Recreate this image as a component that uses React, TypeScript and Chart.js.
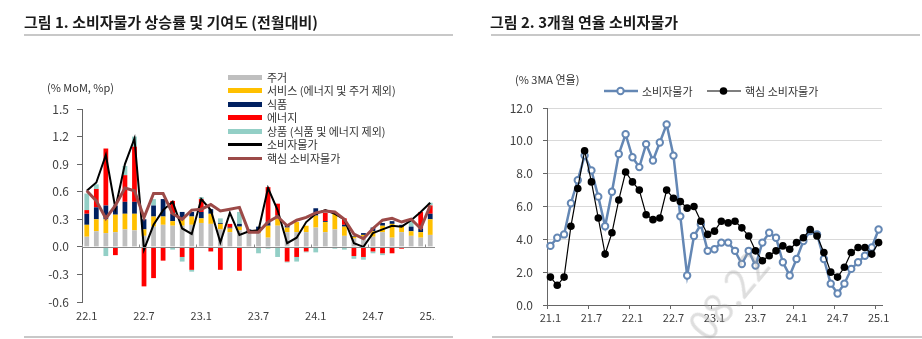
import React, { useEffect, useRef } from 'react';
import { Chart, registerables } from 'chart.js';

Chart.register(...registerables);

const FONT = "'Noto Sans CJK KR', 'Noto Sans', sans-serif";

// ---------- Figure 1: MoM CPI and contributions ----------
const months1 = [
  '22.1', '22.2', '22.3', '22.4', '22.5', '22.6', '22.7', '22.8', '22.9', '22.10', '22.11', '22.12',
  '23.1', '23.2', '23.3', '23.4', '23.5', '23.6', '23.7', '23.8', '23.9', '23.10', '23.11', '23.12',
  '24.1', '24.2', '24.3', '24.4', '24.5', '24.6', '24.7', '24.8', '24.9', '24.10', '24.11', '24.12',
  '25.1',
];
const housing = [0.11, 0.17, 0.15, 0.16, 0.19, 0.18, 0.12, 0.22, 0.24, 0.23, 0.23, 0.24, 0.26, 0.25, 0.19, 0.16, 0.18, 0.15, 0.15, 0.10, 0.23, 0.16, 0.16, 0.16, 0.21, 0.16, 0.19, 0.12, 0.09, 0.11, 0.11, 0.16, 0.10, 0.16, 0.12, 0.10, 0.13];
const services = [0.13, 0.13, 0.15, 0.19, 0.17, 0.18, 0.07, 0.11, 0.09, 0.05, 0.07, 0.09, 0.05, 0.11, 0.06, 0.04, 0.04, 0.02, 0.03, 0.13, 0.08, 0.05, 0.11, 0.07, 0.13, 0.11, 0.19, 0.10, 0.02, 0.02, 0.06, 0.07, 0.15, 0.06, 0.05, 0.06, 0.17];
const food = [0.12, 0.13, 0.15, 0.10, 0.13, 0.13, 0.11, 0.12, 0.19, 0.08, 0.08, 0.05, 0.07, 0.05, 0.01, 0.01, 0.03, 0.02, 0.04, 0.04, 0.03, 0.03, 0, 0, 0.08, 0.01, 0, 0.02, 0.01, 0.02, 0.04, 0.03, 0.03, 0.02, 0.05, 0.04, 0.06];
const energy = [0.04, 0.20, 0.62, -0.09, 0.29, 0.60, -0.43, -0.34, -0.15, 0.14, -0.11, -0.25, 0.14, -0.05, -0.25, 0.04, -0.26, 0, 0, 0.38, 0.13, -0.16, -0.11, -0.05, 0, 0.09, 0, 0.07, -0.10, -0.11, -0.05, -0.07, -0.07, -0.02, 0, 0.18, 0.09];
const goods = [0.18, 0.05, -0.10, 0, 0.10, 0.11, 0, 0.07, 0, -0.03, -0.05, -0.02, 0.02, 0, 0.05, 0, 0.13, -0.01, -0.07, -0.02, -0.11, -0.01, -0.05, -0.01, -0.06, 0, -0.02, -0.03, -0.03, -0.03, -0.02, -0.02, 0, 0, 0.06, -0.01, 0.03];
const cpiMoM = [0.61, 0.70, 1.00, 0.42, 0.90, 1.18, -0.03, 0.24, 0.40, 0.49, 0.20, 0.14, 0.52, 0.40, 0.05, 0.37, 0.13, 0.17, 0.18, 0.64, 0.40, 0.04, 0.10, 0.27, 0.36, 0.40, 0.36, 0.30, 0.04, 0.00, 0.15, 0.19, 0.23, 0.22, 0.29, 0.38, 0.48];
const coreMoM = [0.61, 0.50, 0.31, 0.45, 0.64, 0.61, 0.32, 0.58, 0.58, 0.36, 0.30, 0.40, 0.41, 0.46, 0.39, 0.41, 0.43, 0.16, 0.16, 0.27, 0.33, 0.23, 0.29, 0.32, 0.37, 0.39, 0.38, 0.30, 0.14, 0.09, 0.20, 0.29, 0.31, 0.27, 0.30, 0.20, 0.45];

// ---------- Figure 2: 3-month annualized CPI ----------
const months2 = [
  '21.1', '21.2', '21.3', '21.4', '21.5', '21.6', '21.7', '21.8', '21.9', '21.10', '21.11', '21.12',
  ...months1,
];
const cpi3m = [3.6, 4.1, 4.3, 6.2, 7.6, 9.1, 8.2, 6.6, 4.8, 6.9, 9.2, 10.4, 9.0, 8.4, 9.8, 8.8, 9.9, 11.0, 9.1, 5.4, 1.8, 4.2, 4.9, 3.3, 3.4, 3.8, 3.8, 3.3, 2.5, 3.3, 2.4, 3.8, 4.4, 4.1, 2.6, 1.8, 2.8, 3.9, 4.5, 4.3, 2.8, 1.3, 0.7, 1.3, 2.2, 2.6, 3.0, 3.5, 4.6];
const core3m = [1.7, 1.2, 1.7, 4.8, 7.1, 9.4, 7.5, 5.3, 3.1, 4.4, 6.4, 8.1, 7.5, 7.0, 5.5, 5.2, 5.3, 7.0, 6.5, 6.3, 5.9, 6.0, 5.1, 4.3, 4.5, 5.1, 5.0, 5.1, 4.7, 4.2, 3.3, 2.7, 3.0, 3.3, 3.6, 3.4, 3.8, 4.1, 4.6, 4.2, 3.2, 2.0, 1.7, 2.3, 3.2, 3.5, 3.5, 3.1, 3.8];

const legend1 = [
  { label: '주거', color: '#bfbfbf', kind: 'bar' },
  { label: '서비스 (에너지 및 주거 제외)', color: '#ffc000', kind: 'bar' },
  { label: '식품', color: '#002060', kind: 'bar' },
  { label: '에너지', color: '#ff0000', kind: 'bar' },
  { label: '상품 (식품 및 에너지 제외)', color: '#93cfc6', kind: 'bar' },
  { label: '소비자물가', color: '#000000', kind: 'line' },
  { label: '핵심 소비자물가', color: '#9c4a48', kind: 'line' },
];

const BLUE = '#6487b4';
const TICK = '#404040';
const AXIS = '#666666';

const zeroPlugin = {
  id: 'zeroLine',
  afterDatasetsDraw(chart: any) {
    const xs = chart.scales.x;
    const ys = chart.scales.y;
    const ctx = chart.ctx;
    const y0 = Math.round(ys.getPixelForValue(0)) + 0.5;
    const w = xs.getPixelForValue(1) - xs.getPixelForValue(0);
    ctx.save();
    ctx.strokeStyle = '#8a8a8a';
    ctx.lineWidth = 1;
    ctx.beginPath();
    ctx.moveTo(chart.chartArea.left, y0);
    ctx.lineTo(chart.chartArea.right, y0);
    for (let i = 0; i < months1.length; i += 6) {
      const px = Math.round(xs.getPixelForValue(i) - w / 2) + 0.5;
      ctx.moveTo(px, y0 - 3);
      ctx.lineTo(px, y0);
    }
    ctx.stroke();
    ctx.restore();
  },
};

const abs = (s: any): React.CSSProperties => ({ position: 'absolute', ...s });

export default function App() {
  const ref1 = useRef<HTMLCanvasElement>(null);
  const ref2 = useRef<HTMLCanvasElement>(null);

  useEffect(() => {
    Chart.defaults.font.family = FONT;
    const barDs = (label: string, data: number[], color: string) => ({
      type: 'bar' as const,
      label,
      data,
      backgroundColor: color,
      borderWidth: 0,
      stack: 'bars',
      order: 2,
      barPercentage: 0.5,
      categoryPercentage: 1.0,
    });
    const c1 = new Chart(ref1.current!, {
      type: 'bar',
      data: {
        labels: months1,
        datasets: [
          barDs('주거', housing, '#bfbfbf'),
          barDs('서비스 (에너지 및 주거 제외)', services, '#ffc000'),
          barDs('식품', food, '#002060'),
          barDs('에너지', energy, '#ff0000'),
          barDs('상품 (식품 및 에너지 제외)', goods, '#93cfc6'),
          {
            type: 'line' as const,
            label: '소비자물가',
            data: cpiMoM,
            borderColor: '#000000',
            borderWidth: 2,
            pointRadius: 0,
            tension: 0,
            stack: 'cpi',
            order: 1,
          } as any,
          {
            type: 'line' as const,
            label: '핵심 소비자물가',
            data: coreMoM,
            borderColor: '#9c4a48',
            borderWidth: 3,
            pointRadius: 0,
            tension: 0,
            stack: 'core',
            order: 0,
          } as any,
        ],
      },
      options: {
        responsive: false,
        animation: false,
        devicePixelRatio: 1,
        layout: { padding: { left: 0, top: 109, right: 1, bottom: 15 } },
        plugins: { legend: { display: false }, tooltip: { enabled: false } },
        scales: {
          x: {
            type: 'category',
            stacked: true,
            offset: true,
            grid: { display: false, drawTicks: false },
            border: { display: false },
            ticks: {
              autoSkip: false,
              maxRotation: 0,
              padding: 7,
              color: TICK,
              font: { size: 11, family: FONT },
              callback: (_v: any, i: number) => (i % 6 === 0 ? months1[i] : ''),
            },
            afterFit: (s: any) => {
              s.height = 22;
              s.paddingLeft = 0;
              s.paddingRight = 0;
            },
          },
          y: {
            stacked: true,
            min: -0.6,
            max: 1.5,
            grid: {
              drawOnChartArea: false,
              drawTicks: true,
              tickLength: 5,
              tickColor: AXIS,
            },
            border: { display: true, color: AXIS, width: 1 },
            ticks: {
              stepSize: 0.3,
              padding: 8,
              color: TICK,
              font: { size: 12, family: FONT },
              callback: (v: any) => Number(v).toFixed(1),
            },
            afterFit: (s: any) => {
              s.width = 82;
              s.paddingTop = 0;
              s.paddingBottom = 0;
            },
          },
        },
      } as any,
      plugins: [zeroPlugin],
    });

    const c2 = new Chart(ref2.current!, {
      type: 'line',
      data: {
        labels: months2,
        datasets: [
          {
            label: '소비자물가',
            data: cpi3m,
            borderColor: BLUE,
            borderWidth: 2.5,
            pointRadius: 3.2,
            pointBorderWidth: 2,
            pointBackgroundColor: '#ffffff',
            pointBorderColor: BLUE,
            tension: 0,
            order: 1,
          },
          {
            label: '핵심 소비자물가',
            data: core3m,
            borderColor: '#000000',
            borderWidth: 1.2,
            pointRadius: 3.8,
            pointBorderWidth: 0,
            pointBackgroundColor: '#000000',
            pointBorderColor: '#000000',
            tension: 0,
            order: 0,
          },
        ],
      },
      options: {
        responsive: false,
        animation: false,
        devicePixelRatio: 1,
        layout: { padding: { left: 0, top: 108, right: 40, bottom: 12 } },
        plugins: { legend: { display: false }, tooltip: { enabled: false } },
        scales: {
          x: {
            type: 'category',
            offset: true,
            grid: {
              offset: true,
              drawOnChartArea: false,
              drawTicks: true,
              tickLength: 4,
              tickColor: (ctx: any) => (ctx.index % 6 === 0 && ctx.index < months2.length ? AXIS : 'rgba(0,0,0,0)'),
            },
            border: { display: true, color: AXIS, width: 1 },
            ticks: {
              autoSkip: false,
              maxRotation: 0,
              padding: 2,
              color: TICK,
              font: { size: 11, family: FONT },
              callback: (_v: any, i: number) => (i % 6 === 0 ? months2[i] : ''),
            },
            afterFit: (s: any) => {
              s.height = 22;
              s.paddingLeft = 0;
              s.paddingRight = 0;
            },
          },
          y: {
            min: 0,
            max: 12,
            grid: {
              color: (ctx: any) => (ctx.tick && ctx.tick.value === 0 ? 'rgba(0,0,0,0)' : '#d9d9d9'),
              tickColor: AXIS,
              tickLength: 4,
              lineWidth: 1,
            },
            border: { display: true, color: AXIS, width: 1 },
            ticks: {
              stepSize: 2,
              padding: 10,
              color: TICK,
              font: { size: 12, family: FONT },
              callback: (v: any) => Number(v).toFixed(1),
            },
            afterFit: (s: any) => {
              s.width = 67;
              s.paddingTop = 0;
              s.paddingBottom = 0;
            },
          },
        },
      } as any,
    });

    return () => {
      c1.destroy();
      c2.destroy();
    };
  }, []);

  const txt: React.CSSProperties = { fontFamily: FONT, color: '#333', fontSize: 11, lineHeight: '13px', whiteSpace: 'nowrap' };

  return (
    <div style={abs({ left: 0, top: 0, width: 922, height: 339, background: '#fff', overflow: 'hidden', fontFamily: FONT })}>
      <canvas ref={ref1} width={436} height={339} style={abs({ left: 0, top: 0, width: 436, height: 339 })} />
      <canvas ref={ref2} width={442} height={339} style={abs({ left: 480, top: 0, width: 442, height: 339 })} />

      <div style={abs({ left: 24, top: 11, fontSize: 15, fontWeight: 700, color: '#1a1a1a', whiteSpace: 'nowrap', lineHeight: '22px' })}>
        그림 1. 소비자물가 상승률 및 기여도 (전월대비)
      </div>
      <div style={abs({ left: 490, top: 11, fontSize: 15, fontWeight: 700, color: '#1a1a1a', whiteSpace: 'nowrap', lineHeight: '22px' })}>
        그림 2. 3개월 연율 소비자물가
      </div>
      <div style={abs({ left: 24, top: 34, width: 429, height: 2, background: '#c8c8c8' })} />
      <div style={abs({ left: 491, top: 34, width: 429, height: 2, background: '#c8c8c8' })} />
      <div style={abs({ left: 24, top: 336, width: 429, height: 2, background: '#c8c8c8' })} />
      <div style={abs({ left: 492, top: 336, width: 430, height: 2, background: '#c8c8c8' })} />

      <div style={abs({ ...txt, left: 47, top: 81 })}>(% MoM, %p)</div>
      <div style={abs({ ...txt, left: 515, top: 73 })}>(% 3MA 연율)</div>

      {legend1.map((e, i) => {
        const cy = 77 + i * 13.5;
        const h = e.kind === 'bar' ? 5 : 3;
        return (
          <React.Fragment key={e.label}>
            <div style={abs({ left: 228, top: cy - h / 2, width: 34, height: h, background: e.color })} />
            <div style={abs({ ...txt, left: 267, top: cy - 6.5 })}>{e.label}</div>
          </React.Fragment>
        );
      })}

      <svg width={36} height={12} style={abs({ left: 603, top: 85 })}>
        <line x1={1} y1={6} x2={35} y2={6} stroke={BLUE} strokeWidth={2.5} />
        <circle cx={17.5} cy={6} r={3.2} fill="#fff" stroke={BLUE} strokeWidth={2} />
      </svg>
      <div style={abs({ ...txt, left: 642, top: 84.5 })}>소비자물가</div>
      <svg width={36} height={12} style={abs({ left: 706, top: 85 })}>
        <line x1={1} y1={6} x2={35} y2={6} stroke="#000" strokeWidth={1.2} />
        <circle cx={17.5} cy={6} r={3.8} fill="#000" />
      </svg>
      <div style={abs({ ...txt, left: 745, top: 84.5 })}>핵심 소비자물가</div>

      <div
        style={abs({
          left: 727,
          top: 294,
          transform: 'translate(-50%, -50%) rotate(-50deg)',
          fontSize: 40,
          color: 'rgba(160,160,160,0.35)',
          whiteSpace: 'nowrap',
          pointerEvents: 'none',
          fontFamily: FONT,
        })}
      >
        08.22
      </div>
    </div>
  );
}
